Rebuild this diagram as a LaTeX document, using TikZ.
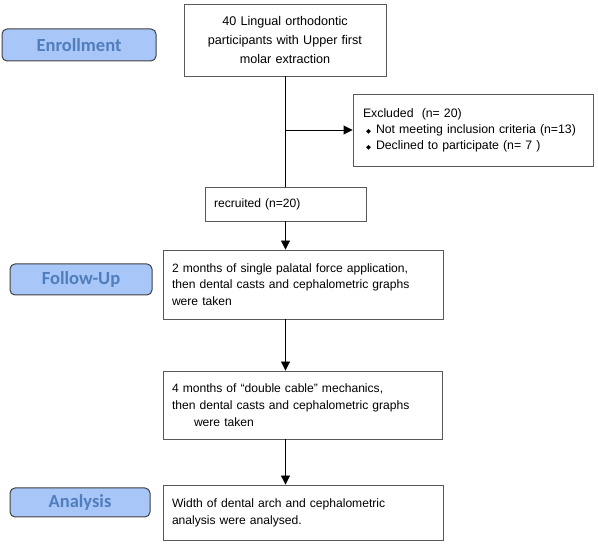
\documentclass[tikz,border=0pt]{standalone}
\usepackage{fontspec}
\setmainfont{Liberation Sans}
\newfontfamily\stagefont{Carlito}
\newfontfamily\symfont{DejaVu Sans}
\usetikzlibrary{arrows.meta}
\definecolor{stagefill}{RGB}{168,198,248}
\definecolor{stagetext}{RGB}{80,126,188}
\tikzset{
  stage/.style={draw=black!75,fill=stagefill,rounded corners=5pt,line width=1pt,
    font=\stagefont\bfseries\fontsize{18.5}{20}\selectfont,text=stagetext},
  box/.style={draw=black!65,line width=0.9pt,inner xsep=9pt,align=left,
    font=\fontsize{12.1}{16.8}\selectfont},
  arrow/.style={-{Triangle[length=9pt,width=9pt]},line width=0.9pt},
  line/.style={line width=0.9pt}
}
\newcommand{\bul}{\hspace*{3pt}{\symfont\fontsize{6.5}{6.5}\selectfont◆}\hspace{5pt}}

\begin{document}
\begin{tikzpicture}[x=1pt,y=-1pt]
\useasboundingbox (0,0) rectangle (598,545);
\node[stage,minimum width=154pt,minimum height=32pt] (enroll) at (79,45) {Enrollment};
\node[stage,minimum width=142pt,minimum height=31pt] (fu) at (81,279.5) {Follow-Up};
\node[stage,minimum width=140pt,minimum height=29pt] (an) at (80,502.5) {Analysis};

\node[box,align=center,inner xsep=6pt,text width=190pt,minimum height=72pt,
  font=\fontsize{12.6}{19}\selectfont] (partic) at (285,40)
  {40 Lingual orthodontic\\participants with Upper first\\molar extraction};
\node[box,text width=220pt,inner xsep=10pt,minimum height=72pt,font=\fontsize{12.3}{16}\selectfont] (excl) at (473,130)
  {Excluded\ \ (n= 20)\\\bul Not meeting inclusion criteria (n=13)\\\bul Declined to participate (n= 7 )};
\node[box,text width=143pt,minimum height=34pt] (recruit) at (285.5,204) {recruited (n=20)};
\node[box,text width=262pt,minimum height=69pt] (single) at (303,284.5)
  {2 months of single palatal force application,\\then dental casts and cephalometric graphs\\were taken};
\node[box,text width=261pt,minimum height=68pt] (double) at (302.5,405)
  {4 months of ``double cable'' mechanics,\\then dental casts and cephalometric graphs\\\hspace*{22pt}were taken};
\node[box,text width=262pt,minimum height=55pt] (width) at (303,512.5)
  {Width of dental arch and cephalometric\\analysis were analysed.};

\draw[line] (partic.south) -- (partic.south |- recruit.north);
\draw[arrow] (partic.south |- excl.west) -- (excl.west);
\draw[arrow] (recruit.south) -- (recruit.south |- single.north);
\draw[arrow] (single.south -| recruit) -- (double.north -| recruit);
\draw[arrow] (double.south -| recruit) -- (width.north -| recruit);
\end{tikzpicture}
\end{document}
